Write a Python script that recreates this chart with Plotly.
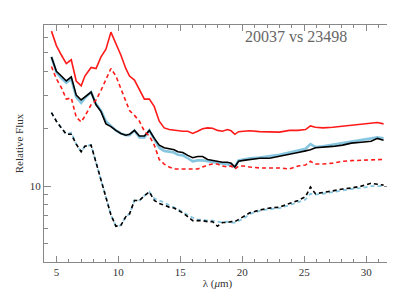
import plotly.graph_objects as go

wavelength = [4.6, 5.0, 5.4, 5.8, 6.2, 6.6, 7.0, 7.3, 7.8, 8.2, 8.6, 9.0, 9.4, 9.8,
              10.2, 10.6, 10.9, 11.3, 11.7, 12.1, 12.5, 12.9, 13.3, 13.7, 14.1, 14.5,
              14.8, 15.2, 15.6, 16.0, 16.4, 16.8, 17.2, 17.6, 18.0, 18.4, 18.8, 19.1,
              19.4, 19.7, 20.1, 20.6, 21.4, 22.2, 23.0, 23.8, 24.5, 25.1, 25.5, 25.9,
              26.5, 27.3, 28.1, 28.8, 29.6, 30.4, 30.9, 31.4]

red_solid = [65.0, 54.6, 48.7, 43.9, 46.0, 35.6, 33.6, 37.8, 41.9, 41.4, 47.6, 52.2,
             64.2, 55.9, 48.7, 41.4, 37.8, 36.0, 32.2, 28.6, 28.6, 26.1, 21.9, 20.2,
             19.8, 19.6, 19.6, 19.4, 19.4, 18.9, 19.4, 20.0, 20.2, 20.1, 19.6, 19.4,
             19.8, 19.5, 18.7, 19.3, 19.4, 19.5, 19.3, 19.2, 19.2, 19.6, 19.6, 19.8,
             20.7, 20.35, 20.2, 20.35, 20.6, 20.95, 21.2, 21.3, 21.55, 21.2]

black_solid = [47.6, 40.0, 37.8, 35.6, 37.4, 30.0, 28.3, 29.3, 31.1, 26.7, 24.6, 21.2,
               20.5, 19.6, 18.9, 18.5, 18.7, 19.6, 18.3, 18.3, 19.6, 17.8, 16.4, 15.9,
               15.7, 15.5, 15.15, 15.0, 14.5, 14.1, 14.3, 14.3, 13.8, 13.65, 13.5, 13.35,
               13.35, 13.2, 12.6, 13.5, 13.65, 13.8, 14.0, 14.0, 14.3, 14.6, 15.0, 15.3,
               15.5, 15.9, 15.95, 16.15, 16.4, 16.8, 17.0, 17.2, 17.8, 17.4]

blue_solid = [47.6, 39.5, 36.9, 34.8, 36.5, 29.3, 27.3, 29.0, 31.1, 27.0, 24.9, 21.9,
              20.7, 19.6, 18.9, 18.5, 18.5, 19.6, 18.0, 18.0, 19.6, 17.6, 15.9, 15.3,
              15.15, 15.0, 14.6, 14.5, 14.0, 13.5, 13.65, 13.65, 13.5, 13.35, 13.2, 13.05,
              12.9, 12.9, 12.6, 13.65, 13.8, 14.0, 14.1, 14.3, 14.6, 15.0, 15.3, 15.7,
              16.6, 16.05, 16.2, 16.5, 16.8, 17.2, 17.5, 17.8, 18.0, 17.8]

red_dashed = [42.4, 36.5, 32.9, 28.6, 29.0, 23.0, 21.7, 23.3, 26.7, 28.3, 31.8, 36.5,
              41.4, 37.8, 32.5, 27.6, 24.9, 23.5, 21.9, 19.4, 18.3, 16.4, 13.8, 13.05,
              12.6, 12.3, 12.3, 12.3, 12.3, 12.2, 12.3, 12.6, 12.9, 13.05, 13.05, 12.75,
              12.6, 12.75, 12.3, 12.75, 12.75, 12.6, 12.45, 12.45, 12.45, 12.3, 12.75, 12.9,
              13.5, 13.05, 13.05, 13.2, 13.5, 13.6, 13.65, 13.8, 13.8, 13.8]

black_dashed = [24.3, 21.9, 20.2, 18.7, 18.7, 16.6, 15.15, 16.2, 16.4, 13.35, 11.0, 8.91,
                7.07, 6.16, 6.23, 6.91, 7.15, 8.41, 8.41, 8.91, 9.33, 8.41, 8.11, 7.94,
                7.76, 7.67, 7.49, 7.24, 6.91, 6.59, 6.59, 6.59, 6.51, 6.51, 6.16, 6.44,
                6.44, 6.51, 6.51, 6.67, 6.91, 7.24, 7.49, 7.67, 7.76, 8.11, 8.41, 8.79,
                9.89, 9.12, 9.22, 9.44, 9.66, 9.77, 10.0, 10.35, 10.23, 10.12]

blue_dashed = [24.3, 21.9, 20.2, 18.7, 19.1, 16.6, 15.15, 16.2, 16.4, 13.35, 11.0, 8.91,
               7.07, 6.16, 6.23, 6.91, 7.15, 8.41, 8.41, 8.91, 9.33, 8.61, 8.41, 8.21,
               7.94, 7.76, 7.58, 7.32, 7.07, 6.83, 6.67, 6.67, 6.59, 6.59, 6.51, 6.44,
               6.51, 6.44, 6.44, 6.59, 6.75, 7.15, 7.41, 7.58, 7.67, 7.94, 8.21, 8.50,
               9.12, 9.02, 9.12, 9.33, 9.55, 9.66, 9.77, 10.0, 10.0, 10.0]

x_major = [5, 10, 15, 20, 25, 30]
x_minor = [v for v in range(4, 33)]
y_major = [10]
y_minor = [4, 5, 6, 7, 8, 9, 20, 30, 40, 50, 60]

RED = "#ff1a1a"
BLUE = "#87c6e0"
BLACK = "#000000"
DASH = "4px,3px"

fig = go.Figure()
fig.add_trace(go.Scatter(x=wavelength, y=blue_solid, mode="lines",
                         line=dict(color=BLUE, width=2.6)))
fig.add_trace(go.Scatter(x=wavelength, y=black_solid, mode="lines",
                         line=dict(color=BLACK, width=1.6)))
fig.add_trace(go.Scatter(x=wavelength, y=red_solid, mode="lines",
                         line=dict(color=RED, width=1.6)))
fig.add_trace(go.Scatter(x=wavelength, y=red_dashed, mode="lines",
                         line=dict(color=RED, width=1.6, dash=DASH)))
fig.add_trace(go.Scatter(x=wavelength, y=blue_dashed, mode="lines",
                         line=dict(color=BLUE, width=1.8, dash=DASH)))
fig.add_trace(go.Scatter(x=wavelength, y=black_dashed, mode="lines",
                         line=dict(color=BLACK, width=1.6, dash=DASH)))

AX = "#888888"
SERIF = "Liberation Serif"
TXT = "#333333"
fig.update_layout(
    width=395, height=291,
    margin=dict(l=27, r=11, t=17, b=26),
    paper_bgcolor="white", plot_bgcolor="white",
    showlegend=False,
    font=dict(family=SERIF, color=TXT, size=11),
    xaxis=dict(
        range=[4, 32], showgrid=False, zeroline=False,
        showline=True, linecolor=AX, linewidth=1, mirror="ticks",
        ticks="inside", ticklen=6, tickcolor=AX, tickwidth=1,
        tickmode="array", tickvals=x_major, ticktext=[str(v) for v in x_major],
        tickfont=dict(family=SERIF, size=11, color=TXT),
        minor=dict(tickmode="array", tickvals=x_minor, ticks="inside",
                   ticklen=3, tickcolor=AX, showgrid=False),
        title=dict(text="λ (<i>μ</i>m)", standoff=2,
                   font=dict(family=SERIF, size=11, color=TXT)),
    ),
    yaxis=dict(
        type="log", range=[0.602, 1.845], showgrid=False, zeroline=False,
        showline=True, linecolor=AX, linewidth=1, mirror="ticks",
        ticks="inside", ticklen=7, tickcolor=AX, tickwidth=1,
        tickmode="array", tickvals=y_major, ticktext=[str(v) for v in y_major],
        tickfont=dict(family=SERIF, size=11, color=TXT),
        minor=dict(tickmode="array", tickvals=y_minor, ticks="inside",
                   ticklen=4, tickcolor=AX, showgrid=False),
        title=dict(text="Relative Flux", standoff=3,
                   font=dict(family=SERIF, size=11, color=TXT)),
    ),
)

fig.add_annotation(
    text="20037 vs 23498", xref="paper", yref="paper",
    x=0.725, y=0.995, xanchor="center", yanchor="top", showarrow=False,
    font=dict(family=SERIF, size=16, color="#666666"),
)

fig.write_html("out.html")
